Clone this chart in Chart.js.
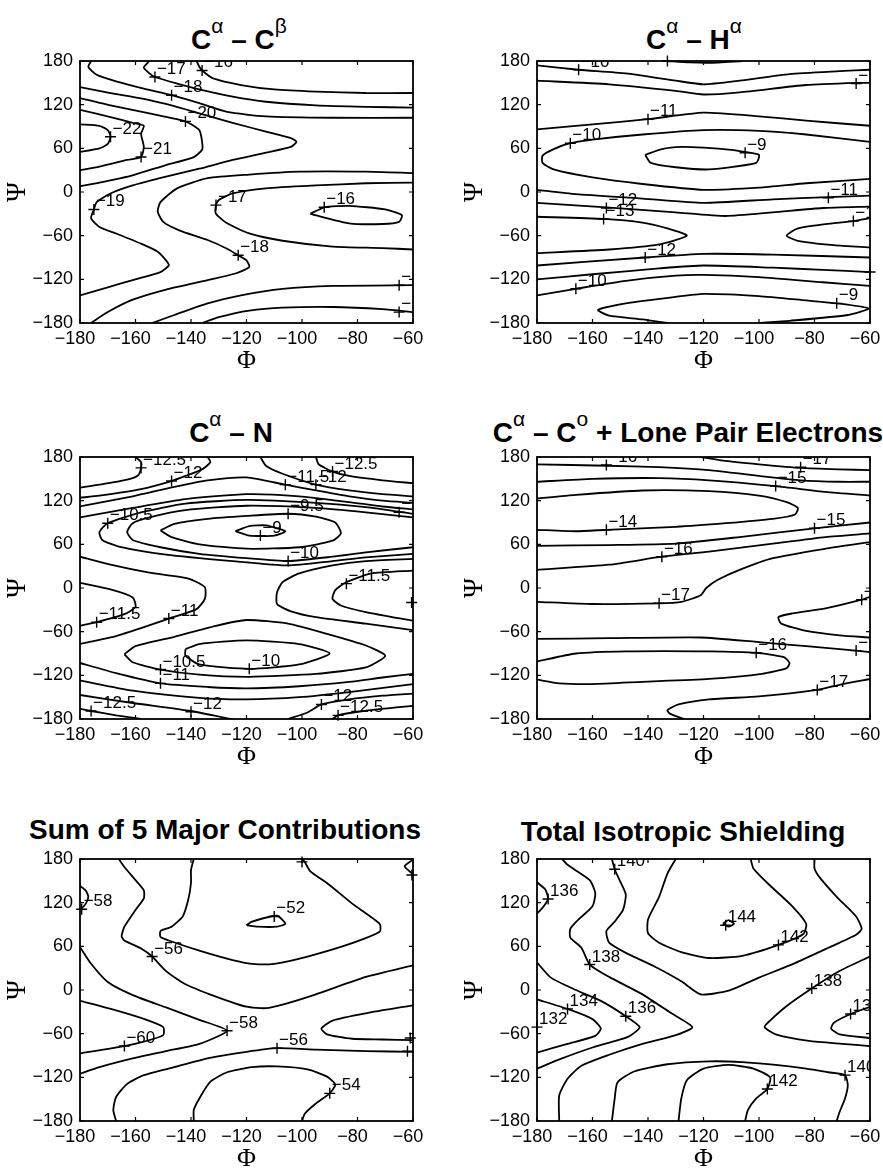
<!DOCTYPE html>
<html>
<head>
<meta charset="utf-8">
<script src="https://cdn.jsdelivr.net/npm/chart.js@4.4.0/dist/chart.umd.min.js"></script>
<style>
  body { margin: 0; background: #fff; width: 883px; height: 1170px; overflow: hidden; position: relative; }
  canvas { position: absolute; }
  .ttl { position: absolute; font: bold 28px/28px "Liberation Sans", Arial, sans-serif; white-space: nowrap; transform: translateX(-50%); color: #000; }
  .ttl .s { font-weight: normal; font-size: 21px; position: relative; top: -16px; }
</style>
</head>
<body>
<div class="ttl" style="left:239px;top:26px">C<span class="s">α</span> – C<span class="s">β</span></div>
<div class="ttl" style="left:694px;top:26px">C<span class="s">α</span> – H<span class="s">α</span></div>
<div class="ttl" style="left:231px;top:419px">C<span class="s">α</span> – N</div>
<div class="ttl" style="left:688px;top:419px">C<span class="s">α</span> – C<span class="s">o</span> + Lone Pair Electrons</div>
<div class="ttl" style="left:225px;top:816px">Sum of 5 Major Contributions</div>
<div class="ttl" style="left:683px;top:818px">Total Isotropic Shielding</div>

<canvas id="p1" width="433" height="333" style="left:0;top:46px"></canvas>
<canvas id="p2" width="426" height="333" style="left:457px;top:46px"></canvas>
<canvas id="p3" width="433" height="333" style="left:0;top:442px"></canvas>
<canvas id="p4" width="426" height="333" style="left:457px;top:442px"></canvas>
<canvas id="p5" width="433" height="333" style="left:0;top:844px"></canvas>
<canvas id="p6" width="426" height="333" style="left:457px;top:844px"></canvas>

<script>
// tick values (Φ, Ψ in degrees)
const phiTicks = [-180, -160, -140, -120, -100, -80, -60];
const psiTicks = [-180, -120, -60, 0, 60, 120, 180];

// contour lines: [level, [[Φ, Ψ], ...]]
// Cα – Cβ
const cbLines = [
  [-16, [[-138,180],[-137,172],[-136,167],[-132,156],[-122,147],[-110,141],[-95,138],[-77,136],[-60,136]]],
  [-17, [[-155,180],[-157,171],[-155,163],[-153,158],[-145,149],[-137,141],[-125,131],[-113,124],[-95,119],[-77,117],[-60,116]]],
  [-18, [[-176,180],[-177,172],[-174,161],[-167,152],[-157,142],[-147,133],[-137,122],[-127,110],[-113,104],[-89,102],[-60,102]]],
  [-19, [[-180,144],[-169,136],[-157,128],[-146,118],[-137,108],[-125,95],[-113,83],[-104,74],[-102,69],[-104,62],[-113,54],[-125,44],[-137,32],[-149,21],[-161,9],[-169,-2],[-174,-14],[-175,-24],[-176,-36],[-173,-48],[-167,-57],[-158,-71],[-152,-82],[-149,-94],[-148,-101],[-151,-110],[-161,-121],[-170,-131],[-180,-142]]],
  [-20, [[-180,129],[-169,119],[-155,108],[-142,97],[-137,85],[-136,69],[-136,58],[-139,48],[-149,37],[-161,23],[-173,13],[-180,8]]],
  [-21, [[-180,113],[-169,103],[-161,95],[-157,91],[-158,80],[-157,62],[-158,48],[-163,44],[-173,35],[-180,30]]],
  [-22, [[-180,93],[-173,91],[-170,85],[-169,76],[-170,66],[-173,60],[-180,55]]],
  [-18, [[-60,26],[-77,28],[-101,28],[-119,24],[-134,19],[-145,5],[-151,-14],[-152,-27],[-150,-41],[-144,-53],[-134,-66],[-127,-78],[-123,-87],[-120,-94],[-119,-103],[-124,-112],[-134,-121],[-149,-134],[-161,-148],[-170,-165],[-176,-180]]],
  [-17, [[-60,13],[-77,12],[-95,9],[-113,5],[-125,-2],[-130,-11],[-131,-18],[-131,-30],[-127,-43],[-119,-57],[-107,-67],[-89,-75],[-71,-77],[-60,-79]]],
  [-16, [[-97,-30],[-92,-21],[-83,-19],[-70,-24],[-64,-32],[-65,-41],[-71,-44],[-83,-43],[-97,-30]]],
  [-17, [[-154,-180],[-146,-169],[-134,-153],[-122,-142],[-107,-133],[-89,-129],[-60,-128]]],
  [-16, [[-136,-180],[-130,-172],[-119,-163],[-107,-159],[-89,-158],[-71,-161],[-60,-165]]]
];
const cbLabels = [[-153,158,'−17'],[-136,167,'−16'],[-147,133,'−18'],[-142,97,'−20'],[-169,76,'−22'],[-158,48,'−21'],[-175,-24,'−19'],[-131,-18,'−17'],[-92,-21,'−16'],[-123,-87,'−18'],[-65,-128,'−17'],[-65,-165,'−16']];

// Cα – Hα
const haLines = [
  [-9, [[-133,180],[-125,178],[-118,177.5],[-106,180]]],
  [-10, [[-180,174],[-165,168],[-148,163],[-130,153],[-120,148],[-107,153],[-89,162],[-71,166],[-60,168]]],
  [-11, [[-180,153],[-154,148],[-130,139],[-120,134],[-107,137],[-83,147],[-65,150],[-60,150]]],
  [-11, [[-180,86],[-160,93],[-140,100],[-120,109],[-100,104],[-83,98],[-60,91]]],
  [-10, [[-60,69],[-83,79],[-100,84],[-120,85],[-142,79],[-160,72],[-168,67],[-174,59],[-178,50],[-178,40],[-174,31],[-160,20],[-142,11],[-120,3],[-100,6],[-83,12],[-60,18]]],
  [-9, [[-141,51],[-135,59],[-128,62],[-120,61],[-110,58],[-105,55],[-100,51],[-101,40],[-118,31],[-130,34],[-139,40],[-141,51]]],
  [-11, [[-180,3],[-166,-3],[-142,-9],[-120,-15],[-95,-10],[-75,-7],[-60,-5]]],
  [-12, [[-180,-15],[-155,-21],[-130,-28],[-112,-33],[-95,-28],[-77,-22],[-60,-20]]],
  [-13, [[-180,-34],[-156,-37],[-142,-42],[-133,-50],[-126,-60],[-136,-72],[-154,-79],[-180,-84]]],
  [-13, [[-60,-36],[-66,-40],[-76,-44],[-86,-50],[-90,-60],[-86,-67],[-73,-73],[-60,-76]]],
  [-12, [[-180,-101],[-141,-90],[-120,-85],[-95,-86],[-60,-90]]],
  [-11, [[-180,-120],[-160,-113],[-136,-105],[-120,-101],[-95,-104],[-77,-107],[-60,-110]]],
  [-10, [[-180,-142],[-166,-133],[-148,-122],[-130,-115],[-120,-114],[-100,-117],[-77,-124],[-60,-129]]],
  [-9, [[-100,-180],[-89,-177],[-68,-169],[-60.5,-160],[-72,-153],[-83,-149],[-100,-143],[-120,-140],[-130,-144],[-148,-153],[-158,-162],[-154,-170],[-142,-175],[-133,-180]]]
];
const haLabels = [[-165,168,'−10'],[-133,180,'−9'],[-65,149,'−11'],[-140,100,'−11'],[-168,67,'−10'],[-105,54,'−9'],[-75,-8,'−11'],[-155,-22,'−12'],[-156,-37,'−13'],[-66,-40,'−13'],[-141,-90,'−12'],[-166,-133,'−10'],[-60,-110,'−11'],[-72,-153,'−9']];

// Cα – N
const nLines = [
  [-12.5, [[-160,180],[-158,173],[-158,165],[-159,155],[-163,149],[-173,142],[-180,138]]],
  [-12, [[-134,180],[-133,173],[-136,163],[-142,154],[-147,147],[-158,136],[-173,127],[-180,124]]],
  [-12, [[-115,180],[-113,168],[-107,157],[-95,142],[-83,134],[-71,129],[-60,126]]],
  [-12.5, [[-95,180],[-94,170],[-89,160],[-83,154],[-71,148],[-60,144]]],
  [-11.5, [[-180,112],[-161,126],[-146,139],[-134,148],[-120,152],[-106,142],[-95,134],[-83,126],[-71,120],[-60,117]]],
  [-11, [[-180,97],[-161,110],[-142,122],[-120,129],[-101,126],[-83,118],[-71,112],[-60,108]]],
  [-10.5, [[-60,102],[-77,111],[-95,117],[-120,121],[-142,116],[-158,104],[-170,89],[-173,77],[-172,66],[-166,57],[-149,46],[-125,37],[-105,31],[-89,37],[-77,42],[-60,47]]],
  [-10, [[-60,97],[-77,104],[-95,110],[-120,113],[-142,107],[-155,97],[-161,89],[-163,77],[-161,66],[-151,56],[-137,47],[-120,41],[-105,37],[-89,43],[-77,49],[-60,56]]],
  [-9.5, [[-151,79],[-146,88],[-134,95],[-120,99],[-105,102],[-95,98],[-88,90],[-86,75],[-89,65],[-101,56],[-120,54],[-137,60],[-147,70],[-151,79]]],
  [-9, [[-124,78],[-119,85],[-113,86],[-106,78],[-110,72],[-119,72],[-124,78]]],
  [-11, [[-180,43],[-169,32],[-155,21],[-141,13],[-135,1],[-135,-15],[-138,-29],[-148,-42],[-158,-55],[-169,-68],[-180,-77]]],
  [-11.5, [[-180,7],[-169,-2],[-161,-13],[-160,-26],[-164,-36],[-174,-47],[-180,-52]]],
  [-11, [[-60,40],[-77,37],[-89,31],[-101,20],[-107,8],[-109,-6],[-109,-22],[-104,-32],[-95,-40],[-77,-49],[-60,-58]]],
  [-11.5, [[-60,24],[-75,20],[-84,8],[-88,-3],[-89,-15],[-86,-24],[-77,-33],[-60,-45]]],
  [-10.5, [[-164,-91],[-160,-80],[-146,-67],[-131,-52],[-120,-44],[-105,-49],[-91,-63],[-77,-79],[-70,-93],[-77,-109],[-95,-118],[-119,-122],[-137,-119],[-151,-112],[-161,-102],[-164,-91]]],
  [-10, [[-142,-84],[-137,-77],[-120,-72],[-101,-77],[-90,-90],[-101,-105],[-119,-111],[-137,-105],[-142,-93],[-142,-84]]],
  [-11, [[-180,-103],[-167,-117],[-151,-131],[-134,-136],[-120,-138],[-101,-135],[-83,-129],[-71,-123],[-60,-118]]],
  [-11.5, [[-180,-127],[-161,-141],[-137,-151],[-120,-153],[-101,-150],[-83,-143],[-60,-132]]],
  [-12, [[-180,-147],[-161,-158],[-140,-169],[-127,-179],[-125,-180]]],
  [-12, [[-105,-180],[-98,-171],[-93,-160],[-83,-153],[-71,-148],[-60,-145]]],
  [-12.5, [[-180,-166],[-176,-169],[-167,-175],[-158,-180]]],
  [-12.5, [[-89,-180],[-87,-175],[-78,-169],[-66,-164],[-60,-162]]]
];
const nLabels = [[-158,165,'−12.5'],[-147,147,'−12'],[-106,142,'−11.5'],[-95,142,'−12'],[-89,160,'−12.5'],[-105,102,'−9.5'],[-170,89,'−10.5'],[-115,72,'−9'],[-105,37,'−10'],[-84,6,'−11.5'],[-174,-47,'−11.5'],[-148,-42,'−11'],[-151,-112,'−10.5'],[-119,-111,'−10'],[-151,-131,'−11'],[-176,-169,'−12.5'],[-140,-170,'−12'],[-93,-160,'−12'],[-87,-175,'−12.5'],[-65,104,'−10.5'],[-60.5,-20,'−11.5']];

// Cα – Co + lone pair electrons
const coLines = [
  [-17, [[-121,180],[-113,175],[-100,170],[-85,165],[-71,163],[-60,162]]],
  [-16, [[-180,170],[-155,168],[-136,166],[-118,162],[-100,154],[-85,148],[-71,146],[-60,146]]],
  [-15, [[-180,146],[-160,150],[-136,151],[-118,148],[-94,140],[-76,132],[-60,127]]],
  [-14, [[-180,123],[-166,128],[-142,134],[-118,133],[-100,127],[-90,118],[-86,110],[-87,101],[-95,95],[-112,89],[-130,84],[-155,80],[-166,78],[-180,80]]],
  [-15, [[-180,58],[-154,59],[-130,61],[-107,70],[-80,82],[-60,90]]],
  [-16, [[-180,25],[-154,32],[-135,43],[-118,50],[-95,61],[-76,70],[-60,75]]],
  [-17, [[-180,-19],[-160,-22],[-136,-21],[-128,-19],[-121,-10],[-119,0],[-115,11],[-107,25],[-95,41],[-76,54],[-60,63]]],
  [-18, [[-60,-12],[-63,-16],[-76,-28],[-88,-35],[-93,-40],[-92,-49],[-83,-59],[-71,-65],[-60,-68]]],
  [-17, [[-180,-70],[-154,-69],[-121,-68],[-101,-74],[-83,-80],[-65,-86],[-60,-88]]],
  [-16, [[-180,-101],[-166,-90],[-148,-87],[-118,-87],[-101,-89],[-91,-95],[-89,-103],[-90,-110],[-99,-118],[-118,-125],[-142,-129],[-160,-132],[-172,-131],[-180,-126]]],
  [-17, [[-127,-180],[-132,-173],[-133,-168],[-129,-160],[-118,-153],[-100,-149],[-79,-140],[-71,-133],[-60,-125]]]
];
const coLabels = [[-155,169,'−16'],[-85,166,'−17'],[-94,140,'−15'],[-155,80,'−14'],[-80,82,'−15'],[-135,43,'−16'],[-136,-21,'−17'],[-63,-16,'−18'],[-101,-89,'−16'],[-65,-86,'−17'],[-79,-140,'−17']];

// sum of 5 major contributions
const sumLines = [
  [-58, [[-180,143],[-178,137],[-177,128],[-178,118],[-180,110]]],
  [-56, [[-166,180],[-164,169],[-160,151],[-157,137],[-157,126],[-160,110],[-164,87],[-165,74],[-164,68],[-158,57],[-154,46],[-149,26],[-142,8],[-131,-9],[-120,-23],[-113,-25],[-106,-19],[-95,-6],[-77,18],[-60,34]]],
  [-54, [[-139,180],[-140,165],[-140,147],[-141,124],[-143,101],[-147,87],[-151,81],[-151,73],[-148,68],[-137,54],[-125,41],[-118,36],[-110,36],[-98,46],[-83,63],[-72,80],[-72,91],[-82,119],[-91,147],[-97,163],[-99,176],[-100,180]]],
  [-52, [[-120,89],[-118,94],[-109,102],[-106,91],[-109,87],[-116,87],[-120,89]]],
  [-56, [[-60,179],[-63,170],[-60,159]]],
  [-60, [[-180,-15],[-167,-28],[-156,-41],[-150,-51],[-150,-62],[-157,-71],[-164,-77],[-180,-87]]],
  [-58, [[-180,59],[-176,36],[-170,11],[-161,-7],[-149,-24],[-137,-41],[-127,-56],[-137,-74],[-149,-84],[-161,-94],[-173,-106],[-180,-115]]],
  [-58, [[-60,-21],[-77,-32],[-89,-42],[-93,-53],[-91,-61],[-82,-67],[-71,-68],[-60,-69]]],
  [-56, [[-167,-180],[-168,-165],[-167,-147],[-163,-129],[-157,-117],[-146,-106],[-134,-94],[-120,-85],[-109,-80],[-95,-82],[-77,-84],[-60,-85]]],
  [-54, [[-139,-180],[-139,-165],[-137,-149],[-133,-126],[-127,-113],[-118,-106],[-109,-105],[-98,-109],[-91,-119],[-88,-130],[-90,-142],[-95,-156],[-99,-170],[-100,-180]]]
];
const sumLabels = [[-179.4,111,'−58'],[-154,46,'−56'],[-110,101,'−52'],[-127,-56,'−58'],[-164,-77,'−60'],[-109,-80,'−56'],[-90,-142,'−54'],[-100,176,'−54'],[-60.4,158,'−56'],[-62,-84,'−56'],[-61,-66,'−58']];

// total isotropic shielding
const totLines = [
  [136, [[-180,148],[-177,138],[-176,125],[-178,113],[-180,105]]],
  [138, [[-171,180],[-169,172],[-161,151],[-159,133],[-160,115],[-165,97],[-168,84],[-168,72],[-164,58],[-161,35],[-154,18],[-142,-6],[-132,-31],[-124,-51],[-130,-62],[-142,-74],[-154,-89],[-164,-104],[-169,-122],[-172,-145],[-172,-180]]],
  [140, [[-153,180],[-152,166],[-150,149],[-148,131],[-149,110],[-152,94],[-155,81],[-154,65],[-148,51],[-138,33],[-128,12],[-121,-6],[-111,-1],[-100,17],[-87,37],[-75,58],[-65,76],[-63,84],[-65,101],[-72,128],[-78,154],[-80,167],[-80,180]]],
  [142, [[-130,180],[-133,160],[-136,128],[-140,97],[-140,78],[-136,65],[-128,52],[-118,44],[-106,47],[-93,62],[-84,77],[-83,91],[-88,115],[-97,147],[-102,167],[-103,180]]],
  [144, [[-113,91],[-111,96],[-109,91],[-111,87],[-113,91]]],
  [138, [[-60,46],[-71,26],[-81,2],[-90,-22],[-96,-42],[-98,-51],[-94,-61],[-82,-70],[-70,-74],[-60,-77]]],
  [136, [[-60,-23],[-67,-33],[-73,-45],[-74,-53],[-71,-61],[-60,-66]]],
  [136, [[-180,38],[-175,17],[-166,0],[-157,-15],[-148,-36],[-143,-51],[-147,-64],[-160,-79],[-171,-94],[-180,-108]]],
  [134, [[-180,-13],[-169,-26],[-160,-40],[-157,-53],[-159,-63],[-169,-74],[-180,-86]]],
  [140, [[-153,-180],[-152,-149],[-151,-127],[-145,-112],[-133,-102],[-118,-98],[-106,-99],[-94,-103],[-83,-108],[-75,-113],[-69,-117],[-68,-131],[-69,-149],[-71,-168],[-72,-180]]],
  [142, [[-129,-180],[-128,-149],[-126,-124],[-120,-108],[-111,-103],[-102,-108],[-96,-120],[-97,-136],[-101,-149],[-104,-165],[-105,-180]]]
];
const totLabels = [[-176,125,'136'],[-152,166,'140'],[-112,89,'144'],[-93,62,'142'],[-161,35,'138'],[-81,2,'138'],[-169,-26,'134'],[-180,-51,'132'],[-148,-36,'136'],[-67,-33,'136'],[-69,-117,'140'],[-97,-136,'142']];

const FONT = '"Liberation Sans", Arial, sans-serif';
const SERIF = '"Liberation Serif", "Times New Roman", serif';

// box and inward ticks on all four sides, like the original
const framePlugin = {
  id: 'frame',
  afterDraw(chart) {
    const { ctx, chartArea: a, scales: { x, y } } = chart;
    ctx.save();
    ctx.strokeStyle = '#000';
    ctx.lineWidth = 1.8;
    ctx.strokeRect(a.left, a.top, a.right - a.left, a.bottom - a.top);
    ctx.lineWidth = 1.2;
    ctx.beginPath();
    x.ticks.forEach(t => {
      const px = x.getPixelForValue(t.value);
      ctx.moveTo(px, a.bottom); ctx.lineTo(px, a.bottom - 4);
      ctx.moveTo(px, a.top); ctx.lineTo(px, a.top + 4);
    });
    y.ticks.forEach(t => {
      const py = y.getPixelForValue(t.value);
      ctx.moveTo(a.left, py); ctx.lineTo(a.left + 4, py);
      ctx.moveTo(a.right, py); ctx.lineTo(a.right - 4, py);
    });
    ctx.stroke();
    ctx.restore();
  }
};

// clabel-style text next to each "+" marker
function textPlugin(labels) {
  return {
    id: 'contourText',
    afterDatasetsDraw(chart) {
      const { ctx, chartArea: a, scales: { x, y } } = chart;
      ctx.save();
      ctx.beginPath();
      ctx.rect(a.left, a.top, a.right - a.left, a.bottom - a.top);
      ctx.clip();
      ctx.fillStyle = '#000';
      ctx.font = '17px ' + FONT;
      ctx.textBaseline = 'alphabetic';
      labels.forEach(([phi, psi, txt]) => {
        ctx.fillText(txt, x.getPixelForValue(phi) + 2, y.getPixelForValue(psi) - 3);
      });
      ctx.restore();
    }
  };
}

const minus = v => (v < 0 ? '−' + Math.abs(v) : String(v));

function drawPanel(id, lines, labels, padRight) {
  const datasets = lines.map(([level, pts]) => ({
    label: String(level),
    data: pts.map(([x, y]) => ({ x, y })),
    showLine: true,
    borderColor: '#000',
    borderWidth: 1.8,
    pointRadius: 0,
    tension: 0.2,
    fill: false
  }));
  datasets.push({
    label: 'marks',
    data: labels.map(([x, y]) => ({ x, y })),
    showLine: false,
    pointStyle: 'cross',
    pointRadius: 5.5,
    borderColor: '#000',
    borderWidth: 1.4,
    clip: false
  });

  new Chart(document.getElementById(id), {
    type: 'scatter',
    data: { datasets },
    options: {
      responsive: false,
      animation: false,
      events: [],
      layout: { padding: { top: 15, right: padRight, left: 0, bottom: 0 } },
      plugins: { legend: { display: false }, tooltip: { enabled: false } },
      scales: {
        x: {
          type: 'linear', min: -180, max: -60,
          afterBuildTicks: s => { s.ticks = phiTicks.map(v => ({ value: v })); },
          ticks: { callback: minus, color: '#000', font: { family: FONT, size: 18 }, padding: 5, labelOffset: -5, maxRotation: 0, autoSkip: false },
          grid: { display: false, drawTicks: false },
          border: { display: false },
          title: { display: true, text: 'Φ', color: '#000', font: { family: SERIF, size: 26 }, padding: { top: 0, bottom: 2 } },
          afterFit: s => { s.height = 56; s.paddingLeft = 0; s.paddingRight = 0; }
        },
        y: {
          type: 'linear', min: -180, max: 180,
          afterBuildTicks: s => { s.ticks = psiTicks.map(v => ({ value: v })); },
          ticks: { callback: minus, color: '#000', font: { family: FONT, size: 18 }, padding: 7, autoSkip: false },
          grid: { display: false, drawTicks: false },
          border: { display: false },
          title: { display: true, text: 'Ψ', color: '#000', font: { family: SERIF, size: 27 }, padding: { top: 2, bottom: 0 } },
          afterFit: s => { s.width = 80; s.paddingTop = 0; s.paddingBottom = 0; }
        }
      }
    },
    plugins: [framePlugin, textPlugin(labels)]
  });
}

drawPanel('p1', cbLines, cbLabels, 20);
drawPanel('p2', haLines, haLabels, 13);
drawPanel('p3', nLines, nLabels, 20);
drawPanel('p4', coLines, coLabels, 13);
drawPanel('p5', sumLines, sumLabels, 20);
drawPanel('p6', totLines, totLabels, 13);
</script>
</body>
</html>
